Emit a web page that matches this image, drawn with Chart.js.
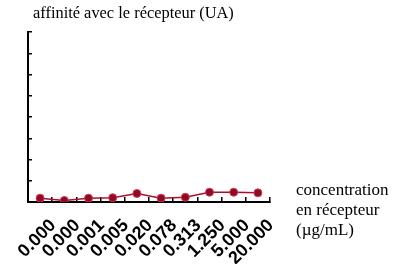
<!DOCTYPE html>
<html lang="fr">
<head>
  <meta charset="UTF-8" />
  <title>Affinité</title>
  <script src="https://cdn.jsdelivr.net/npm/chart.js"></script>
  <style>
    body {
      margin: 0;
      background: #fff;
    }
    .wrap {
      position: relative;
      width: 400px;
      height: 264px;
    }
    .ytitle {
      position: absolute;
      left: 33px;
      top: 3px;
      font-family: 'Liberation Serif', serif;
      font-size: 16.4px;
      color: #000;
      white-space: nowrap;
    }
    .xtitle {
      position: absolute;
      left: 296px;
      top: 180px;
      font-family: 'Liberation Serif', serif;
      font-size: 17px;
      line-height: 20px;
      color: #000;
    }
  </style>
</head>
<body>
  <div class="wrap">
    <canvas id="c" width="400" height="264"></canvas>
    <div class="ytitle">affinité avec le récepteur (UA)</div>
    <div class="xtitle">concentration<br>en récepteur<br>(µg/mL)</div>
  </div>

  <script>
    // concentrations (µg/mL) as printed under the axis
    const concentrations = ['0.000', '0.000', '0.001', '0.005', '0.020', '0.078', '0.313', '1.250', '5.000', '20.000'];
    // affinity, arbitrary units
    const affinity = [0.18, 0.07, 0.18, 0.2, 0.4, 0.18, 0.22, 0.46, 0.46, 0.43];
    const yMin = 0;
    const yMax = 8;

    new Chart(document.getElementById('c'), {
      type: 'line',
      data: {
        labels: concentrations,
        datasets: [{
          data: affinity,
          borderColor: '#a8102c',
          borderWidth: 1.5,
          backgroundColor: '#8e0c22',
          pointRadius: 4,
          pointBorderColor: '#d8365a',
          pointBorderWidth: 1,
          tension: 0
        }]
      },
      options: {
        responsive: false,
        animation: false,
        layout: { padding: { top: 32, right: 130, left: 0, bottom: 0 } },
        plugins: {
          legend: { display: false },
          tooltip: { enabled: false }
        },
        scales: {
          x: {
            offset: true,
            grid: {
              offset: true,
              drawOnChartArea: false,
              tickLength: -5,
              color: '#000',
              lineWidth: 1.5
            },
            border: { color: '#000', width: 2 },
            ticks: {
              minRotation: 45,
              maxRotation: 45,
              autoSkip: false,
              labelOffset: 13,
              padding: 18,
              color: '#000',
              font: { family: 'Liberation Sans', size: 18, weight: 'bold' }
            },
            afterFit: s => {
              s.height = 62;
              // let the rotated labels run off the edge like the original
              s.paddingLeft = 0;
              s.paddingRight = 0;
            }
          },
          y: {
            min: yMin,
            max: yMax,
            grid: {
              drawOnChartArea: false,
              tickLength: -4,
              color: '#000',
              lineWidth: 1.5
            },
            border: { color: '#000', width: 2 },
            ticks: { display: false, stepSize: 1 },
            afterFit: s => { s.width = 28; }
          }
        }
      }
    });
  </script>
</body>
</html>
